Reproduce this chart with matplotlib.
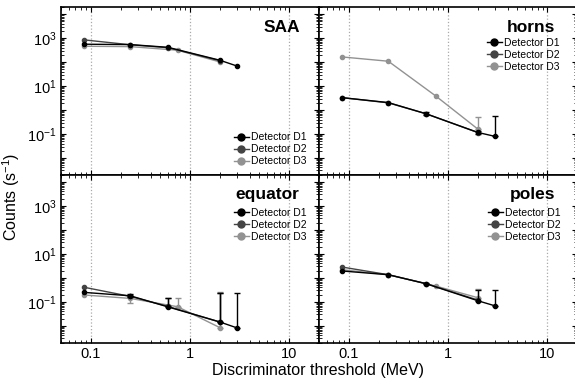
import numpy as np
import matplotlib
matplotlib.use("Agg")
import matplotlib.pyplot as plt
from matplotlib.ticker import LogLocator, FuncFormatter, FixedLocator, FixedFormatter, NullFormatter
from matplotlib.lines import Line2D

plt.rcParams['font.family'] = ['Liberation Sans', 'DejaVu Sans']
plt.rcParams['mathtext.fontset'] = 'custom'
plt.rcParams['mathtext.rm'] = 'Liberation Sans'
plt.rcParams['mathtext.it'] = 'Liberation Sans:italic'
plt.rcParams['mathtext.bf'] = 'Liberation Sans:bold'

# Schwellen (MeV) je Detektor
x_d1 = [0.085, 0.25, 0.6, 2, 3]
x_d2 = [0.085, 0.25, 0.6, 2]
x_d3 = [0.085, 0.25, 0.75, 2]

# Zaehlraten (1/s)
saa_d1 = [560, 540, 415, 120, 68]
saa_d2 = [850, 530, 400, 115]
saa_d3 = [460, 444, 314, 102]

horns_d1 = [3.3, 2.05, 0.70, 0.116, 0.079]
horns_d2 = [3.3, 2.0, 0.70, 0.115]
horns_d3 = [165, 109, 3.9, 0.16]

equator_d1 = [0.25, 0.18, 0.062, 0.0146, 0.0082]
equator_d2 = [0.41, 0.17, 0.065, 0.0145]
equator_d3 = [0.195, 0.14, 0.063, 0.0085]

poles_d1 = [1.95, 1.36, 0.575, 0.112, 0.068]
poles_d2 = [2.85, 1.36, 0.58, 0.12]
poles_d3 = [2.2, 1.36, 0.46, 0.15]

# Fehlerbalken (nach oben / nach unten)
horns_d1_up = [0, 0, 0.12, 0.02, 0.48]
horns_d1_lo = [0, 0, 0.1, 0.02, 0]
horns_d3_up = [0, 0, 0, 0.34]
equator_d1_up = [0, 0.03, 0.09, 0.225, 0.23]
equator_d1_lo = [0, 0.02, 0, 0, 0]
equator_d2_up = [0, 0.03, 0.08, 0.22]
equator_d3_up = [0, 0.02, 0.087, 0.24]
equator_d3_lo = [0, 0.05, 0, 0]
poles_d1_up = [0, 0, 0.05, 0.2, 0.26]
poles_d3_up = [0, 0, 0, 0.18]

names = ['SAA', 'horns', 'equator', 'poles']
colors = ['black', '#444444', '#929292']
labels = ['Detector D1', 'Detector D2', 'Detector D3']
xticks = [0.1, 1, 10]
xticklabels = ['0.1', '1', '10']

panels = {
    'SAA': [(x_d1, saa_d1, None, None), (x_d2, saa_d2, None, None), (x_d3, saa_d3, None, None)],
    'horns': [(x_d1, horns_d1, horns_d1_up, horns_d1_lo), (x_d2, horns_d2, None, None),
              (x_d3, horns_d3, horns_d3_up, None)],
    'equator': [(x_d1, equator_d1, equator_d1_up, equator_d1_lo), (x_d2, equator_d2, equator_d2_up, None),
                (x_d3, equator_d3, equator_d3_up, equator_d3_lo)],
    'poles': [(x_d1, poles_d1, poles_d1_up, None), (x_d2, poles_d2, None, None),
              (x_d3, poles_d3, poles_d3_up, None)],
}

W, H = 575, 387
fig = plt.figure(figsize=(W / 100, H / 100), dpi=100)

def box(x0, y0, x1, y1):
    return [x0 / W, 1 - y1 / H, (x1 - x0) / W, (y1 - y0) / H]

rects = [box(61, 7, 319, 174.7), box(319, 7, 577, 174.7),
         box(61, 174.7, 319, 342.7), box(319, 174.7, 577, 342.7)]

# Legendenpositionen (Achsenanteile)
leg_pos = {'SAA': ('lower right', (0.953, 0.05)),
           'horns': ('upper right', (0.934, 0.818)),
           'equator': ('upper right', (0.953, 0.803)),
           'poles': ('upper right', (0.938, 0.803))}

def ylab(v, pos):
    e = int(round(np.log10(v)))
    return r'$10^{%d}$' % e if e % 2 == 1 else ''

for i, name in enumerate(names):
    ax = fig.add_axes(rects[i])
    ax.set_xscale('log')
    ax.set_yscale('log')
    ax.set_xlim(0.05, 20)
    ax.set_ylim(2e-3, 2e4)

    zs = [4, 3, 2]
    for k, (xs, ys, up, lo) in enumerate(panels[name]):
        xs = np.array(xs, float)
        ys = np.array(ys, float)
        ax.plot(xs, ys, '-o', color=colors[k], ms=3, lw=1, zorder=zs[k])
        if up is not None:
            up = np.array(up, float)
            lo = np.zeros_like(up) if lo is None else np.array(lo, float)
            m = (up > 0) | (lo > 0)
            ax.errorbar(xs[m], ys[m], yerr=[lo[m], up[m]], fmt='none', ecolor=colors[k],
                        elinewidth=1, capsize=2, capthick=1, zorder=zs[k])

    ax.xaxis.set_major_locator(FixedLocator(xticks))
    ax.xaxis.set_major_formatter(FixedFormatter(xticklabels))
    ax.xaxis.set_minor_locator(LogLocator(base=10, subs=np.arange(2, 10)))
    ax.xaxis.set_minor_formatter(NullFormatter())
    ax.yaxis.set_major_locator(LogLocator(base=10, numticks=20))
    ax.yaxis.set_minor_locator(LogLocator(base=10, subs=np.arange(2, 10), numticks=20))
    ax.yaxis.set_minor_formatter(NullFormatter())
    ax.yaxis.set_major_formatter(FuncFormatter(ylab))
    ax.tick_params(which='both', direction='in', top=True, right=True, labelsize=10.5, pad=3)
    ax.tick_params(which='major', length=3.5, width=0.8)
    ax.tick_params(which='minor', length=2, width=0.6)
    if i < 2:
        ax.tick_params(labelbottom=False)
    if i % 2 == 1:
        ax.tick_params(labelleft=False)
    for s in ax.spines.values():
        s.set_linewidth(1.2)
    ax.grid(axis='x', which='major', ls=':', color='#aaaaaa', lw=0.9)

    tx = 0.925 if i % 2 == 0 else 0.915
    ax.text(tx, 0.88, name, transform=ax.transAxes, ha='right', va='center',
            fontsize=12.5, fontweight='bold')

    handles = [Line2D([], [], color=c, marker='o', ms=5, lw=1) for c in colors]
    loc, anchor = leg_pos[name]
    ax.legend(handles, labels, loc=loc, bbox_to_anchor=anchor, frameon=False,
              fontsize=7.5, labelspacing=0.2, handlelength=1.5, handletextpad=0.2,
              borderpad=0, borderaxespad=0)

fig.text(0.02, 0.49, 'Counts (s$^{-1}$)', rotation=90, ha='center', va='center', fontsize=11.5)
fig.text(0.553, 0.042, 'Discriminator threshold (MeV)', ha='center', va='center', fontsize=11.5)

fig.savefig('out.png', dpi=100)
